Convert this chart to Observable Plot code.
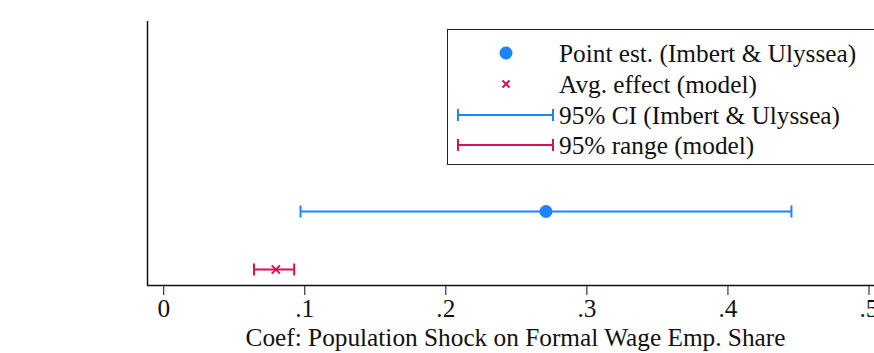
<!DOCTYPE html>
<html>
<head>
<meta charset="utf-8">
<script src="https://cdn.jsdelivr.net/npm/d3@7"></script>
<script src="https://cdn.jsdelivr.net/npm/@observablehq/plot@0.6"></script>
<style>
  html, body { margin: 0; padding: 0; background: #fff; overflow: hidden; }
  #wrap { position: relative; width: 874px; height: 353px; overflow: hidden; }
  #legend {
    position: absolute; left: 447px; top: 29px; width: 460px; height: 136px;
    border: 1.5px solid #222; background: #fff; box-sizing: border-box;
    font-family: "Liberation Serif", "Times New Roman", Times, "DejaVu Serif", serif; font-size: 25.3px; color: #111;
  }
  .row { position: absolute; left: 0; height: 30px; }
  .row svg { position: absolute; left: 0; top: 0; }
  .row span { position: absolute; left: 111px; top: 0; white-space: nowrap; line-height: 30px; }
  svg text { font-family: "Liberation Serif", "Times New Roman", Times, "DejaVu Serif", serif; }
</style>
</head>
<body>
<div id="wrap"></div>
<script>
// ---- data ----
const series = ["Imbert & Ulyssea", "Model"];
const rowPos = [2, 1];
const estimates = [0.271, 0.0795];
const lowers = [0.097, 0.064];
const uppers = [0.445, 0.0925];
const colors = ["#1a85ff", "#d41159"];
const xTicks = [0, 0.1, 0.2, 0.3, 0.4, 0.5];
const xLabel = "Coef: Population Shock on Formal Wage Emp. Share";
const legendLabels = ["Point est. (Imbert & Ulyssea)", "Avg. effect (model)", "95% CI (Imbert & Ulyssea)", "95% range (model)"];

const rows = series.map((s, i) => ({series: s, y: rowPos[i], est: estimates[i], lo: lowers[i], hi: uppers[i], color: colors[i]}));

const xDomain = [-0.0115, 0.5039];
const yDomain = [0.724, 5.276];
const serif = "'Liberation Serif', 'Times New Roman', Times, 'DejaVu Serif', serif";

const capSymbol = {
  draw(ctx, size) {
    const h = Math.sqrt(size / Math.PI);
    ctx.moveTo(0, -h);
    ctx.lineTo(0, h);
  }
};

const fmt = d => d === 0 ? "0" : String(+d.toFixed(2)).replace(/^0/, "");

const chart = Plot.plot({
  width: 874,
  height: 353,
  marginLeft: 147,
  marginRight: 0,
  marginTop: 21,
  marginBottom: 68,
  style: {fontFamily: serif, background: "transparent", color: "#111"},
  x: {domain: xDomain},
  y: {domain: yDomain, axis: null},
  marks: [
    Plot.ruleX([xDomain[0]], {stroke: "#111", strokeWidth: 1.5}),
    Plot.ruleY([yDomain[0]], {stroke: "#111", strokeWidth: 1.5}),
    Plot.axisX(xTicks, {tickFormat: fmt, tickSize: 10, tickPadding: 4, fontSize: 25.3, label: null, stroke: "#111"}),
    Plot.text([xLabel], {frameAnchor: "bottom", dx: 4.5, dy: 60, lineAnchor: "bottom", fontSize: 25.3, fill: "#111", text: d => d}),
    Plot.ruleY(rows, {y: "y", x1: "lo", x2: "hi", stroke: "color", strokeWidth: 2}),
    Plot.dot(rows, {x: "lo", y: "y", symbol: capSymbol, r: 6, stroke: "color", strokeWidth: 2, fill: "none"}),
    Plot.dot(rows, {x: "hi", y: "y", symbol: capSymbol, r: 6, stroke: "color", strokeWidth: 2, fill: "none"}),
    Plot.dot(rows.filter(d => d.series !== "Model"), {x: "est", y: "y", r: 6.5, fill: "color", stroke: "none"}),
    Plot.dot(rows.filter(d => d.series === "Model"), {x: "est", y: "y", symbol: "times", r: 3.8, stroke: "color", strokeWidth: 2})
  ]
});

const wrap = document.getElementById("wrap");
wrap.appendChild(chart);

// ---- legend ----
const legend = document.createElement("div");
legend.id = "legend";
const rowTops = [8, 38.5, 70, 100];
const syms = [
  `<circle cx="58" cy="15" r="6.5" fill="${colors[0]}"/>`,
  `<path d="M54.5,11.5L61.5,18.5M61.5,11.5L54.5,18.5" stroke="${colors[1]}" stroke-width="2"/>`,
  `<path d="M10,15H105M10,9V21M105,9V21" stroke="${colors[0]}" stroke-width="2" fill="none"/>`,
  `<path d="M10,15H105M10,9V21M105,9V21" stroke="${colors[1]}" stroke-width="2" fill="none"/>`
];
legendLabels.forEach((lab, i) => {
  const r = document.createElement("div");
  r.className = "row";
  r.style.top = rowTops[i] + "px";
  r.innerHTML = `<svg width="110" height="30">${syms[i]}</svg><span>${lab.replace(/&/g, "&amp;")}</span>`;
  legend.appendChild(r);
});
wrap.appendChild(legend);
</script>
</body>
</html>
